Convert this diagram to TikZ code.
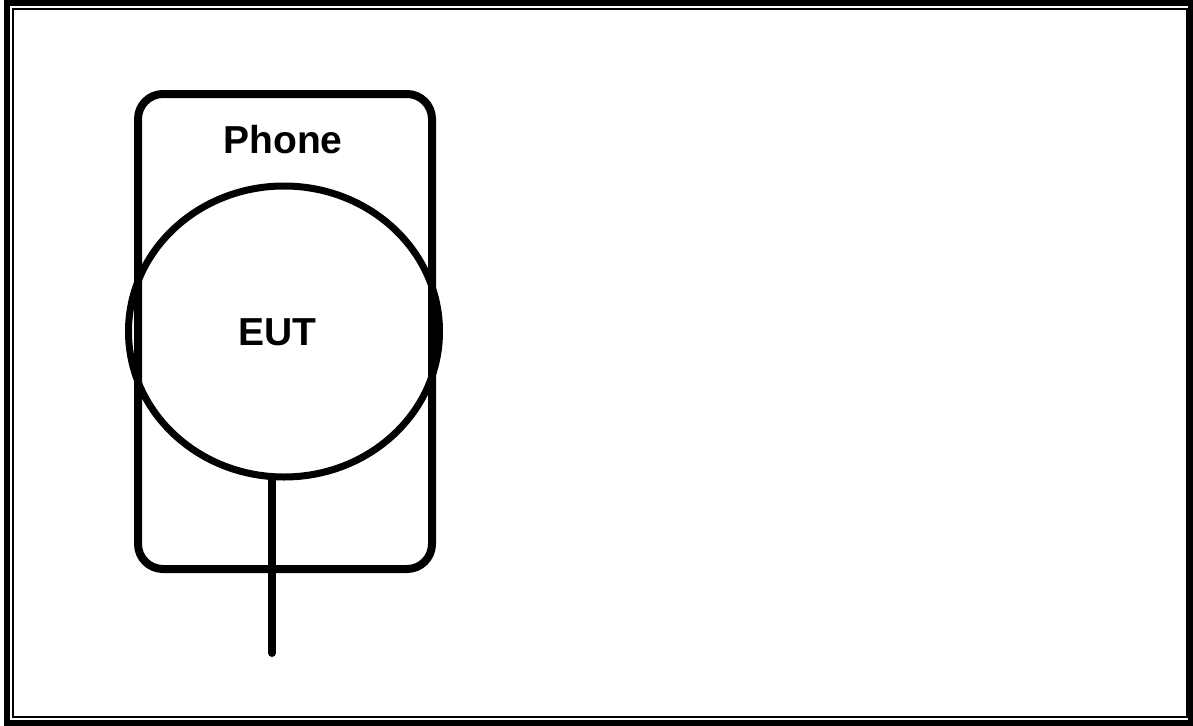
\documentclass[tikz,border=0pt]{standalone}
\usepackage{fontspec}
\setmainfont{Liberation Sans}
\usetikzlibrary{shapes.geometric, positioning}

\tikzset{
  phonebox/.style={draw=black, line width=8pt, rounded corners=25pt, minimum width=294pt, minimum height=475pt, inner sep=0pt},
  eutshape/.style={draw=black, line width=7pt, ellipse, minimum width=311pt, minimum height=291pt, inner sep=0pt},
  lbl/.style={font=\fontsize{39}{42}\selectfont\bfseries, inner sep=0pt}
}

\begin{document}
\begin{tikzpicture}[x=1pt, y=-1pt]
\useasboundingbox (0,0) rectangle (1193,725);
% frame
\draw[line width=6pt] (7,3) rectangle (1190.5,722.5);
\draw[line width=2pt] (13,9) rectangle (1187,717);

\node[phonebox] (phone) at (285,331.5) {};
\node[eutshape] (eut) at (284,331.5) {};
\node[lbl] (phonelbl) at (283,140) {Phone};
\node[lbl] (eutlbl) at (277,332) {EUT};

% cable
\coordinate (plug) at (272,653);
\draw[line width=8pt, line cap=round] (plug |- eut.south) -- (plug);
\end{tikzpicture}
\end{document}
